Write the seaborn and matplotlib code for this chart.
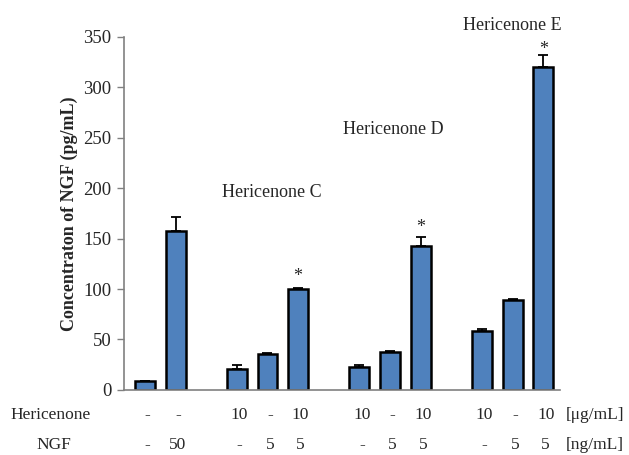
import matplotlib
matplotlib.use("Agg")
import matplotlib.pyplot as plt
import matplotlib.transforms as mtransforms
import seaborn as sns
import pandas as pd

# Treatment groups (one bar each) and measured NGF concentrations
groups = ["Control", "NGF 50", "C 10", "C NGF 5", "C 10 + NGF 5",
          "D 10", "D NGF 5", "D 10 + NGF 5",
          "E 10", "E NGF 5", "E 10 + NGF 5"]
ngf_conc = [9, 158, 21, 36, 100, 23, 38, 143, 58, 89, 320]
ngf_err = [0, 13, 4, 0.5, 1, 1.5, 0.5, 8.5, 2, 1.5, 12]
significant = [False, False, False, False, True, False, False, True, False, False, True]

# Dose table shown under the axis
hericenone_dose = ["-", "-", "10", "-", "10", "10", "-", "10", "10", "-", "10"]
ngf_dose = ["-", "50", "-", "5", "5", "-", "5", "5", "-", "5", "5"]
row_names = ["Hericenone", "NGF"]
row_units = ["[\u03bcg/mL]", "[ng/mL]"]

# Compound labels placed over each treatment block
compounds = ["Hericenone C", "Hericenone D", "Hericenone E"]
compound_groups = [("C 10", "C 10 + NGF 5"), ("D 10", "D 10 + NGF 5"), ("E 10", "E 10 + NGF 5")]
compound_label_y = [196, 258, 361]
compound_label_dx = [0.15, 0.1, -0.02]

# Empty slots separate the blocks
order = groups[:2] + ["gap1"] + groups[2:5] + ["gap2"] + groups[5:8] + ["gap3"] + groups[8:]

df = pd.DataFrame({"group": groups, "conc": ngf_conc})

sns.set_style("white")
plt.rcParams["font.family"] = ["Liberation Serif", "DejaVu Serif"]

fig = plt.figure(figsize=(6.29, 4.55), dpi=100)
ax = fig.add_axes([0.197, 0.143, 0.693, 0.776])

sns.barplot(data=df, x="group", y="conc", order=order, color="#4F81BD",
            saturation=1, width=0.65, edgecolor="black", linewidth=1.8,
            errorbar=None, ax=ax)

pos = [order.index(g) for g in groups]
ax.errorbar(pos, ngf_conc, yerr=[[0] * len(ngf_err), ngf_err], fmt="none",
            ecolor="black", elinewidth=1.3, capsize=3.5, capthick=1.3, zorder=3)

# Significance markers
star_gap = {4: 11, 7: 10, 10: 5}
for i, (p, v, e, s) in enumerate(zip(pos, ngf_conc, ngf_err, significant)):
    if s:
        ax.text(p, v + e + star_gap[i], "*", ha="center", va="center", fontsize=13)

for name, (a, b), y, dx in zip(compounds, compound_groups, compound_label_y, compound_label_dx):
    xc = (order.index(a) + order.index(b)) / 2 + dx
    ax.text(xc, y, name, ha="center", va="center", fontsize=13)

ax.set_xlim(-0.685, 13.54)
ax.set_ylim(0, 350)
ax.set_yticks(range(0, 351, 50))
ax.set_xticks([])
ax.set_xlabel("")
ax.set_ylabel("Concentraton of NGF (pg/mL)", fontsize=13, fontweight="bold", labelpad=4)
ax.tick_params(axis="y", labelsize=13.5, direction="out", length=5, width=1,
               color="#808080", left=True, pad=4)
for side in ["top", "right"]:
    ax.spines[side].set_visible(False)
for side in ["left", "bottom"]:
    ax.spines[side].set_color("#808080")
    ax.spines[side].set_linewidth(1.2)

# Dose table
trans = mtransforms.blended_transform_factory(ax.transData, ax.transAxes)
name_trans = mtransforms.blended_transform_factory(fig.transFigure, ax.transAxes)
row_y = [-0.072, -0.156]
table_fs = 12.5
for rows, y in zip([hericenone_dose, ngf_dose], row_y):
    for p, t in zip(pos, rows):
        ax.text(p + 0.08, y, t, transform=trans, ha="center", va="center", fontsize=table_fs)
ax.text(0.016, row_y[0], row_names[0], transform=name_trans, ha="left", va="center", fontsize=table_fs)
ax.text(0.085, row_y[1], row_names[1], transform=name_trans, ha="center", va="center", fontsize=table_fs)
for unit, y in zip(row_units, row_y):
    ax.text(13.72, y, unit, transform=trans, ha="left", va="center", fontsize=table_fs)

fig.savefig("out.png", dpi=100)
